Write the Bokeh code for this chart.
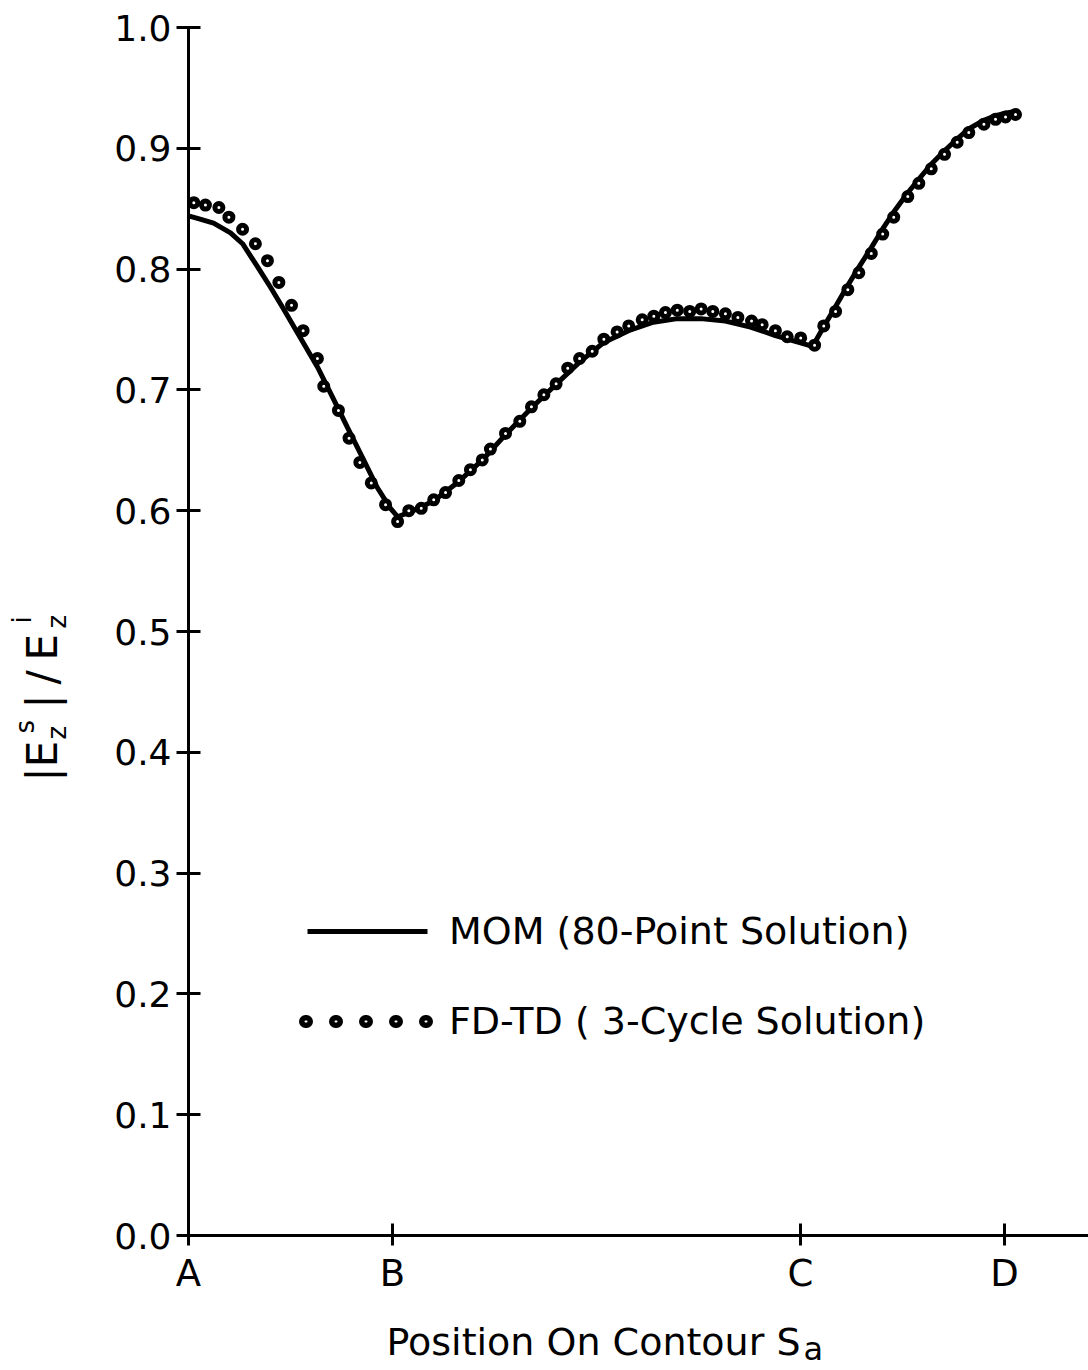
import math
from bokeh.plotting import figure
from bokeh.models import (FixedTicker, Label, Legend, LegendItem, Range1d,
                          NumeralTickFormatter)
from bokeh.embed import file_html
from bokeh.resources import INLINE

# Position on contour: A=0, B=1, C=3, D=4
x_tick_positions = [0, 1, 3, 4]
x_tick_labels = ["A", "B", "C", "D"]
y_ticks = [0.0, 0.1, 0.2, 0.3, 0.4, 0.5, 0.6, 0.7, 0.8, 0.9, 1.0]

# MOM (80-point solution) curve
mom_x = [0.000, 0.044, 0.123, 0.206, 0.265, 0.338, 0.402, 0.466, 0.549, 0.632,
         0.706, 0.779, 0.853, 0.926, 0.990, 1.025, 1.088, 1.201, 1.324, 1.441,
         1.554, 1.681, 1.804, 1.917, 2.034, 2.157, 2.279, 2.397, 2.510, 2.632,
         2.755, 2.877, 3.000, 3.059, 3.113, 3.172, 3.230, 3.284, 3.348, 3.402,
         3.456, 3.525, 3.578, 3.642, 3.706, 3.770, 3.824, 3.897, 3.956, 4.005,
         4.064]
mom_y = [0.844, 0.842, 0.838, 0.830, 0.821, 0.802, 0.785, 0.767, 0.743, 0.719,
         0.694, 0.669, 0.644, 0.619, 0.602, 0.595, 0.599, 0.608, 0.624, 0.642,
         0.663, 0.685, 0.705, 0.723, 0.739, 0.749, 0.756, 0.759, 0.759, 0.757,
         0.752, 0.745, 0.739, 0.736, 0.752, 0.769, 0.786, 0.801, 0.818, 0.833,
         0.847, 0.863, 0.874, 0.887, 0.898, 0.908, 0.916, 0.923, 0.927, 0.929,
         0.931]

# FD-TD (3-cycle solution) samples
fdtd_x = [0.026, 0.083, 0.149, 0.198, 0.265, 0.328, 0.387, 0.443, 0.505, 0.562,
          0.632, 0.663, 0.735, 0.787, 0.840, 0.896, 0.966, 1.025, 1.080, 1.141,
          1.202, 1.260, 1.325, 1.382, 1.440, 1.480, 1.554, 1.624, 1.681, 1.742,
          1.802, 1.859, 1.917, 1.979, 2.036, 2.101, 2.158, 2.224, 2.281, 2.338,
          2.396, 2.457, 2.513, 2.570, 2.632, 2.693, 2.760, 2.812, 2.877, 2.935,
          3.001, 3.069, 3.114, 3.172, 3.232, 3.286, 3.347, 3.403, 3.457, 3.526,
          3.580, 3.641, 3.706, 3.768, 3.825, 3.899, 3.956, 4.005, 4.054]
fdtd_y = [0.855, 0.853, 0.851, 0.843, 0.833, 0.821, 0.807, 0.789, 0.770, 0.749,
          0.726, 0.703, 0.683, 0.660, 0.640, 0.623, 0.605, 0.591, 0.600, 0.602,
          0.609, 0.615, 0.625, 0.634, 0.642, 0.651, 0.664, 0.674, 0.686, 0.696,
          0.705, 0.718, 0.726, 0.732, 0.742, 0.748, 0.753, 0.758, 0.761, 0.764,
          0.766, 0.765, 0.767, 0.765, 0.763, 0.760, 0.757, 0.754, 0.749, 0.744,
          0.743, 0.737, 0.753, 0.765, 0.783, 0.797, 0.813, 0.829, 0.843, 0.860,
          0.871, 0.883, 0.895, 0.905, 0.913, 0.920, 0.924, 0.926, 0.928]

legend_labels = ["MOM (80-Point Solution)", "FD-TD ( 3-Cycle Solution)"]
x_title = "Position On Contour S"
x_title_sub = "a"

FONT = "DejaVu Sans"
W, H = 1088, 1370
PX_X = 204.0    # pixels per contour unit
PX_Y = 1208.0   # pixels per unit of |E|
X0, Y0 = 188, 1235  # pixel position of the origin

# frame covers the whole canvas; axes are pinned at the origin
p = figure(width=W, height=H, output_backend="svg", toolbar_location=None,
           x_range=Range1d(-X0 / PX_X, (W - X0) / PX_X),
           y_range=Range1d(-(H - Y0) / PX_Y, Y0 / PX_Y),
           min_border_left=0, min_border_right=0, min_border_top=0,
           min_border_bottom=0)
p.outline_line_color = None
p.xgrid.visible = False
p.ygrid.visible = False
p.background_fill_color = "white"
p.border_fill_color = "white"

# axes
p.xaxis.fixed_location = 0
p.yaxis.fixed_location = 0
p.xaxis.bounds = (0, (W - X0) / PX_X)
p.yaxis.bounds = (0, 1.0)
p.xaxis.ticker = FixedTicker(ticks=x_tick_positions)
p.xaxis.major_label_overrides = {k: v for k, v in zip(x_tick_positions, x_tick_labels)}
p.yaxis.ticker = FixedTicker(ticks=y_ticks)
p.yaxis.formatter = NumeralTickFormatter(format="0.0")
for ax in (p.xaxis[0], p.yaxis[0]):
    ax.axis_line_width = 3
    ax.axis_line_color = "black"
    ax.major_tick_line_width = 3
    ax.major_tick_line_color = "black"
    ax.minor_tick_line_color = None
    ax.major_label_text_font = FONT
    ax.major_label_text_color = "black"
p.yaxis.major_tick_in = 12
p.yaxis.major_tick_out = 12
p.yaxis.major_label_standoff = 5
p.yaxis.major_label_text_font_size = "36px"
p.xaxis.major_tick_in = 12
p.xaxis.major_tick_out = 10
p.xaxis.major_label_standoff = 6
p.xaxis.major_label_text_font_size = "37px"

# data
mom = p.line(mom_x, mom_y, line_width=5, line_color="black")
fd = p.scatter(fdtd_x, fdtd_y, size=8, line_width=5, line_color="black",
               fill_color="white")

# legend proxies: a single sample each, so nothing is drawn in the plot,
# only their legend swatch
mom_key = p.line(x=mom_x[:1], y=mom_y[:1], line_width=5, line_color="black",
                 line_dash="0 8 120 200")
dots_black = p.line(x=fdtd_x[:1], y=fdtd_y[:1], line_width=13, line_color="black",
                    line_dash="1 29", line_dash_offset=24, line_cap="round")
dots_white = p.line(x=fdtd_x[:1], y=fdtd_y[:1], line_width=2, line_color="white",
                    line_dash="1 29", line_dash_offset=24, line_cap="round")

legend = Legend(items=[LegendItem(label=legend_labels[0], renderers=[mom_key]),
                       LegendItem(label=legend_labels[1], renderers=[dots_black, dots_white])],
                location=(299, H - 1044), orientation="vertical",
                glyph_width=134, glyph_height=46, label_height=46, spacing=44,
                padding=0, margin=0, border_line_color=None,
                background_fill_alpha=0, label_standoff=16,
                label_text_font=FONT, label_text_font_size="38px",
                label_text_color="black")
p.add_layout(legend)

# y-axis title  |E^s_z| / E^i_z  (rotated), positions in canvas pixels
ylab = [
    ("|E", 42, 781, "42px"),
    ("s", 24, 733, "26px"),
    ("z", 56, 739, "26px"),
    ("|", 42, 708, "42px"),
    ("/", 42, 684, "42px"),
    ("E", 42, 660, "42px"),
    ("i", 21, 623, "26px"),
    ("z", 56, 628, "26px"),
]
for t, cx, cy, fs in ylab:
    p.add_layout(Label(x=cx, y=H - cy, x_units="screen", y_units="screen", text=t,
                       angle=math.pi / 2, text_align="left",
                       text_baseline="alphabetic", text_font=FONT,
                       text_font_size=fs, text_color="black"))

# x-axis title
p.add_layout(Label(x=386, y=H - 1341, x_units="screen", y_units="screen", text=x_title,
                   text_align="left", text_baseline="alphabetic", text_font=FONT,
                   text_font_size="38px", text_color="black"))
p.add_layout(Label(x=803, y=H - 1348, x_units="screen", y_units="screen", text=x_title_sub,
                   text_align="left", text_baseline="alphabetic", text_font=FONT,
                   text_font_size="32px", text_color="black"))

open("out.html", "w").write(file_html(p, INLINE))
